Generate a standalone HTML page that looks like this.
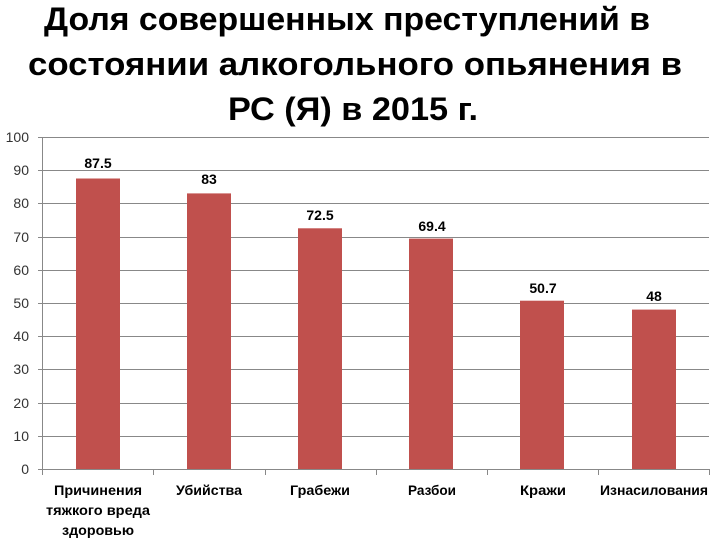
<!DOCTYPE html>
<html><head><meta charset="utf-8"><style>
body{margin:0;background:#fff;}
</style></head><body>
<svg width="720" height="540" xmlns="http://www.w3.org/2000/svg" font-family="Liberation Sans, DejaVu Sans, sans-serif">
<rect width="720" height="540" fill="#fff"/>
<g font-size="32" font-weight="bold" fill="#000" text-anchor="middle">
<text x="347" y="30" textLength="606" lengthAdjust="spacingAndGlyphs">Доля совершенных преступлений в</text>
<text x="355" y="75" textLength="654" lengthAdjust="spacingAndGlyphs">состоянии алкогольного опьянения в</text>
<text x="353" y="120" textLength="250" lengthAdjust="spacingAndGlyphs">РС (Я) в 2015 г.</text>
</g>
<g stroke="#888" stroke-width="1">
<line x1="38" y1="137.5" x2="709" y2="137.5"/>
<line x1="38" y1="170.5" x2="709" y2="170.5"/>
<line x1="38" y1="203.5" x2="709" y2="203.5"/>
<line x1="38" y1="237.5" x2="709" y2="237.5"/>
<line x1="38" y1="270.5" x2="709" y2="270.5"/>
<line x1="38" y1="303.5" x2="709" y2="303.5"/>
<line x1="38" y1="336.5" x2="709" y2="336.5"/>
<line x1="38" y1="369.5" x2="709" y2="369.5"/>
<line x1="38" y1="403.5" x2="709" y2="403.5"/>
<line x1="38" y1="436.5" x2="709" y2="436.5"/>
<line x1="42.5" y1="137" x2="42.5" y2="469"/>
</g>
<g fill="#c0504d">
<rect x="76" y="178.5" width="44" height="290.5"/>
<rect x="187" y="193.4" width="44" height="275.6"/>
<rect x="298" y="228.3" width="44" height="240.7"/>
<rect x="409" y="238.6" width="44" height="230.4"/>
<rect x="520" y="300.7" width="44" height="168.3"/>
<rect x="632" y="309.6" width="44" height="159.4"/>
</g>
<g stroke="#888" stroke-width="1">
<line x1="38" y1="469.5" x2="709" y2="469.5"/>
<line x1="42.5" y1="469" x2="42.5" y2="475"/>
<line x1="153.5" y1="469" x2="153.5" y2="475"/>
<line x1="265.5" y1="469" x2="265.5" y2="475"/>
<line x1="376.5" y1="469" x2="376.5" y2="475"/>
<line x1="487.5" y1="469" x2="487.5" y2="475"/>
<line x1="598.5" y1="469" x2="598.5" y2="475"/>
<line x1="709.5" y1="469" x2="709.5" y2="475"/>
</g>
<g font-size="14" fill="#333" text-anchor="end">
<text x="29" y="142">100</text><text x="29" y="175">90</text><text x="29" y="208">80</text>
<text x="29" y="242">70</text><text x="29" y="275">60</text><text x="29" y="308">50</text>
<text x="29" y="341">40</text><text x="29" y="374">30</text><text x="29" y="408">20</text>
<text x="29" y="441">10</text><text x="29" y="474">0</text>
</g>
<g font-size="14" font-weight="bold" fill="#000" text-anchor="middle">
<text x="98" y="168">87.5</text><text x="209" y="184">83</text><text x="320" y="220">72.5</text>
<text x="432" y="231">69.4</text><text x="543" y="293">50.7</text><text x="654" y="301">48</text>
</g>
<g font-size="14" font-weight="bold" fill="#000" text-anchor="middle">
<text x="98" y="495" textLength="88" lengthAdjust="spacingAndGlyphs">Причинения</text>
<text x="98" y="515" textLength="104" lengthAdjust="spacingAndGlyphs">тяжкого вреда</text>
<text x="98" y="535" textLength="72" lengthAdjust="spacingAndGlyphs">здоровью</text>
<text x="209" y="495" textLength="66" lengthAdjust="spacingAndGlyphs">Убийства</text>
<text x="320" y="495" textLength="60" lengthAdjust="spacingAndGlyphs">Грабежи</text>
<text x="432" y="495" textLength="48" lengthAdjust="spacingAndGlyphs">Разбои</text>
<text x="543" y="495" textLength="46" lengthAdjust="spacingAndGlyphs">Кражи</text>
<text x="654" y="495" textLength="108" lengthAdjust="spacingAndGlyphs">Изнасилования</text>
</g>
</svg>
</body></html>
